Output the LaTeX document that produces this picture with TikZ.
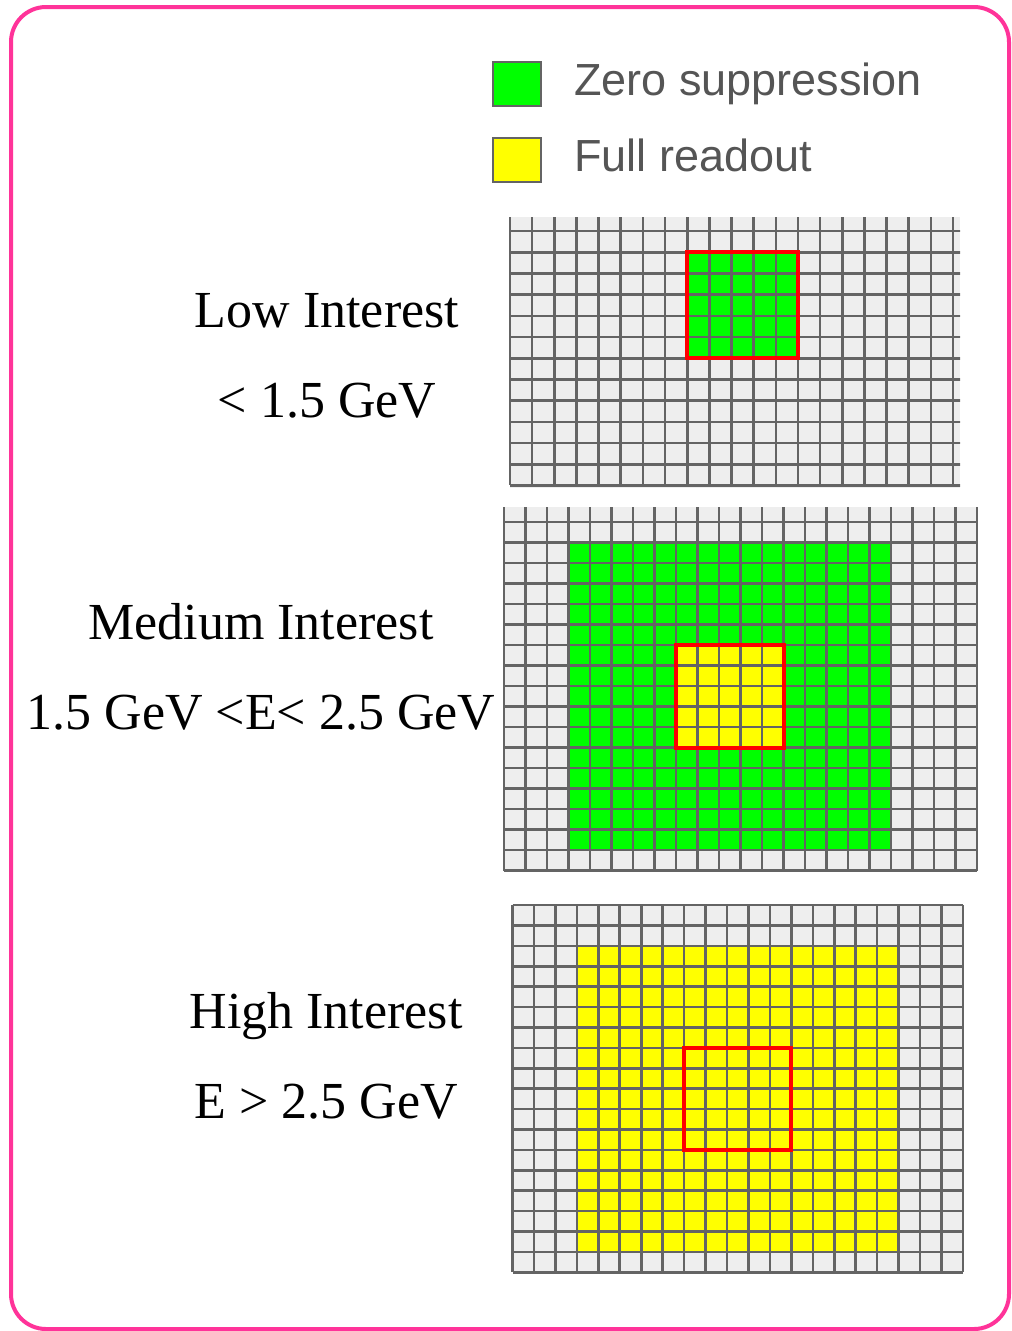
\documentclass[tikz,border=0pt]{standalone}
\usepackage{fontspec}
\setmainfont{Liberation Serif}
\newfontfamily\legendfont{Liberation Sans}
\usetikzlibrary{positioning}

\definecolor{framepink}{RGB}{255,51,153}
\definecolor{cellgray}{RGB}{238,238,238}
\definecolor{linegray}{RGB}{100,100,100}
\definecolor{zsgreen}{RGB}{0,255,0}
\definecolor{fryellow}{RGB}{255,255,0}
\definecolor{legendtext}{RGB}{85,85,85}

% cell lines: origin #1,#2, cell size #3,#4, #5 columns, #6 rows
\newcommand{\cellgrid}[6]{%
  \foreach \i in {0,...,#5} \draw[gridline] ({#1+\i*#3},{#2}) -- ++(0,{#6*#4});
  \foreach \j in {0,...,#6} \draw[gridline] ({#1},{#2+\j*#4}) -- ++({#5*#3},0);
}

\begin{document}
\begin{tikzpicture}[x=1pt, y=-1pt, node distance=42pt,
  gridline/.style={draw=linegray, line width=2.6pt},
  redbox/.style={draw=red, line width=4pt},
  legendbox/.style={draw=linegray, line width=2pt, minimum width=48pt, minimum height=44pt, inner sep=0pt},
  legendlabel/.style={font=\legendfont\fontsize{45}{54}\selectfont, text=legendtext, text height=32pt, text depth=9pt, inner sep=0pt},
  levellabel/.style={font=\fontsize{52}{62}\selectfont, text height=36pt, text depth=12pt, inner sep=0pt}]
\useasboundingbox (0,0) rectangle (1012,1331);
\draw[framepink, line width=4pt, rounded corners=35pt] (11,7) rectangle (1009,1329);

% legend
\node[legendbox, fill=zsgreen] (zsbox) at (517,83.5) {};
\node[legendbox, fill=fryellow, below=30pt of zsbox] (frbox) {};
\node[legendlabel, right=32pt of zsbox] (zslbl) {Zero suppression};
\node[legendlabel, right=32pt of frbox] (frlbl) {Full readout};

% labels
\node[levellabel, anchor=base] (lowlbl) at (327,327) {Low Interest};
\node[levellabel, below=of lowlbl] (lowcut) {< 1.5 GeV};
\node[levellabel, anchor=base] (medlbl) at (261,639) {Medium Interest};
\node[levellabel, below=of medlbl] (medcut) {1.5 GeV <E< 2.5 GeV};
\node[levellabel, anchor=base] (highlbl) at (326,1028) {High Interest};
\node[levellabel, below=of highlbl] (highcut) {E > 2.5 GeV};

% low interest grid
\begin{scope}
\clip (509,217) rectangle (960,487);
\fill[cellgray] (510,209.8) rectangle ++(450,280);
\fill[zsgreen] ({510+8*22.15},{209.8+2*21.2}) rectangle ++({5*22.15},{5*21.2});
\cellgrid{510}{209.8}{22.15}{21.2}{21}{13}
\end{scope}
\draw[redbox] ({510+8*22.15},{209.8+2*21.2}) rectangle ++({5*22.15},{5*21.2});

% medium interest grid
\begin{scope}
\clip (503,507) rectangle (979,872);
\fill[cellgray] (504,501.5) rectangle ++({22*21.5},{18*20.5});
\fill[zsgreen] ({504+3*21.5},{501.5+2*20.5}) rectangle ++({15*21.5},{15*20.5});
\fill[fryellow] ({504+8*21.5},{501.5+7*20.5}) rectangle ++({5*21.5},{5*20.5});
\cellgrid{504}{501.5}{21.5}{20.5}{22}{18}
\end{scope}
\draw[redbox] ({504+8*21.5},{501.5+7*20.5}) rectangle ++({5*21.5},{5*20.5});

% high interest grid
\fill[cellgray] (512.5,905) rectangle ++({21*21.45},{18*20.4});
\fill[fryellow] ({512.5+3*21.45},{905+2*20.4}) rectangle ++({15*21.45},{15*20.4});
\cellgrid{512.5}{905}{21.45}{20.4}{21}{18}
\draw[redbox] ({512.5+8*21.45},{905+7*20.4}) rectangle ++({5*21.45},{5*20.4});
\end{tikzpicture}
\end{document}
